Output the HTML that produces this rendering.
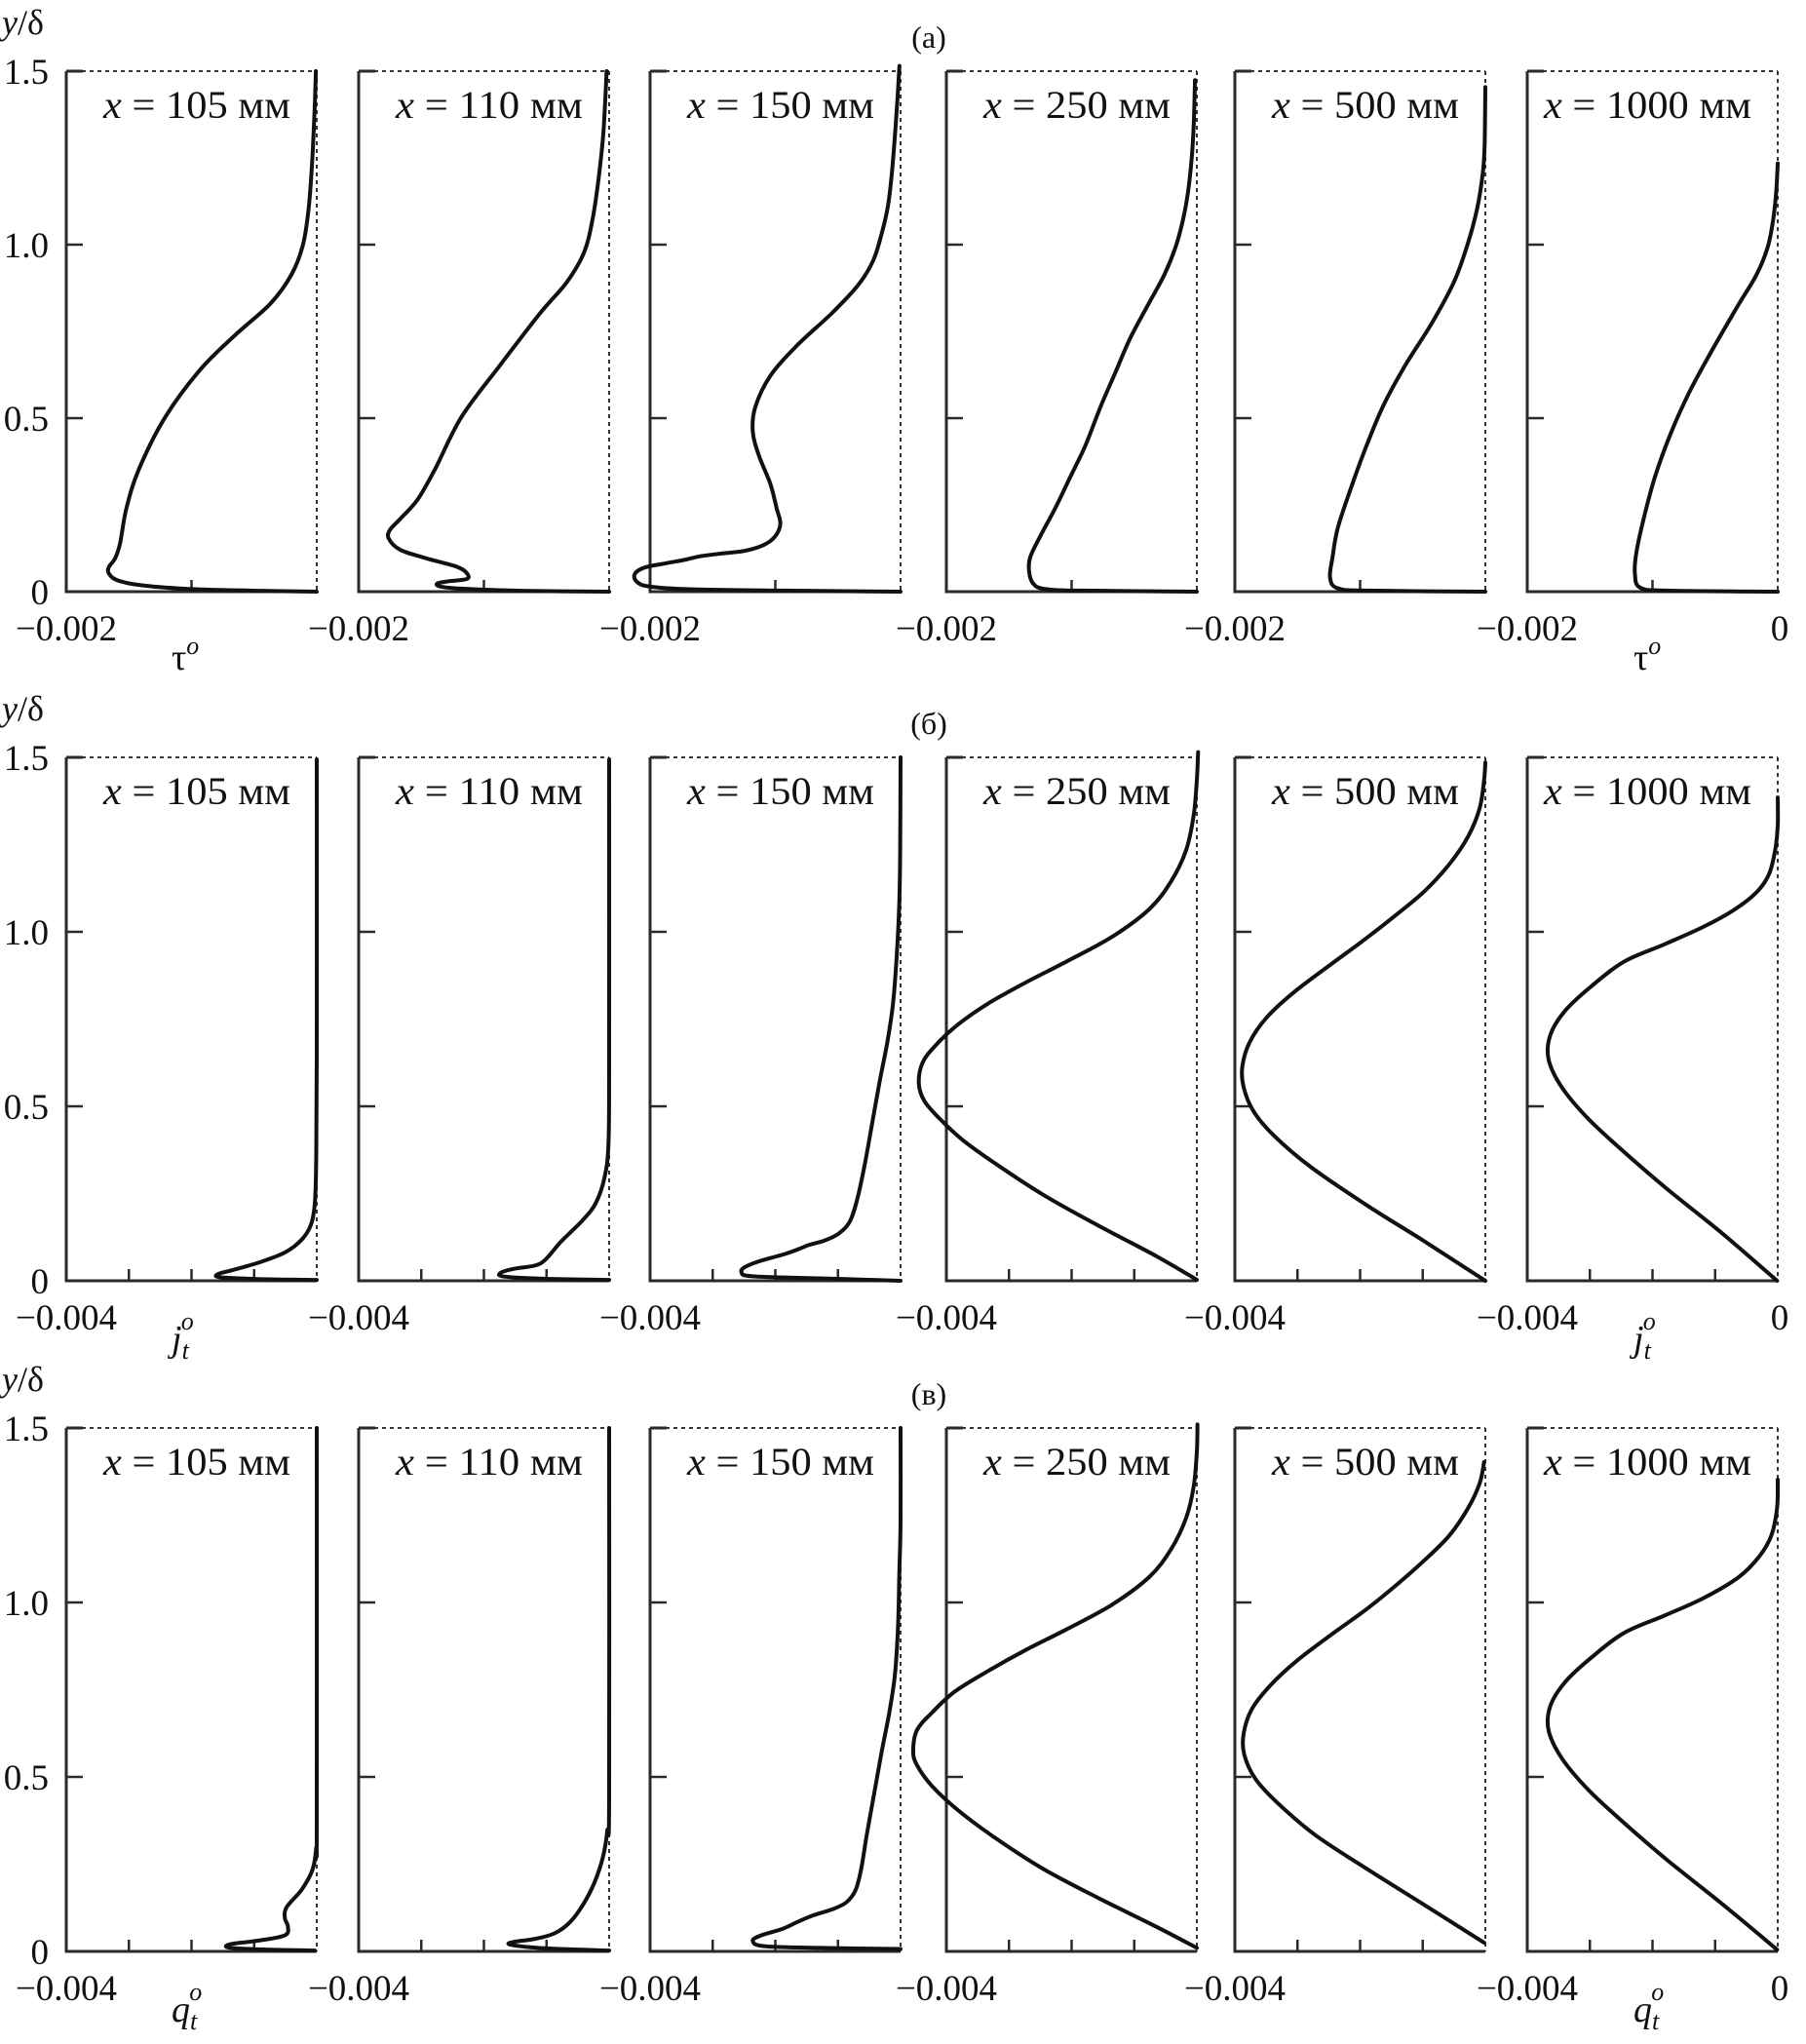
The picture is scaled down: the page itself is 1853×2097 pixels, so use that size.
<!DOCTYPE html>
<html>
<head>
<meta charset="utf-8">
<style>
html,body{margin:0;padding:0;background:#fff;}
svg{display:block;font-family:"Liberation Serif","DejaVu Serif",serif;}
</style>
</head>
<body>
<svg id="fig" width="1853" height="2097" viewBox="0 0 1853 2097" xmlns="http://www.w3.org/2000/svg"></svg>
<script>
// ---------- data ----------
const panelTitles = ["x = 105 мм","x = 110 мм","x = 150 мм","x = 250 мм","x = 500 мм","x = 1000 мм"];
const rowLetters = ["(а)","(б)","(в)"];
const rowMins = [-0.002, -0.004, -0.004];
const rowMinLabels = ["−0.002","−0.004","−0.004"];
const yTickValues = [0, 0.5, 1.0, 1.5];
const yTickLabels = ["0","0.5","1.0","1.5"];

// Row (а): tau
const tau105_y = [0,0.0025,0.0075,0.0175,0.0325,0.0525,0.071,0.096,0.14,0.24,0.353,0.503,0.64,0.74,0.83,0.915,1.0,1.10,1.23,1.39,1.5];
const tau105_v = [0,-0.00044,-0.001,-0.00138,-0.00159,-0.00166,-0.00166,-0.00161,-0.00157,-0.00152,-0.00142,-0.00121,-0.00093,-0.00065,-0.00037,-0.0002,-0.00011,-0.000066,-0.000038,-0.000017,-0.000007];
const tau110_y = [0,0.0025,0.0088,0.015,0.024,0.030,0.036,0.050,0.071,0.096,0.121,0.153,0.178,0.209,0.265,0.353,0.503,0.653,0.803,0.891,0.978,1.078,1.203,1.328,1.5];
const tau110_v = [0,-0.000691,-0.00118,-0.00135,-0.00137,-0.00128,-0.00114,-0.00113,-0.00121,-0.00146,-0.00167,-0.00176,-0.00175,-0.00167,-0.00153,-0.00139,-0.00118,-0.00087,-0.00055,-0.00034,-0.0002,-0.00013,-0.00008,-0.000045,-0.00002];
const tau150_y = [0,0.003,0.007,0.015,0.030,0.052,0.070,0.082,0.092,0.102,0.109,0.118,0.135,0.160,0.196,0.241,0.311,0.391,0.461,0.532,0.622,0.712,0.802,0.883,0.953,1.033,1.113,1.204,1.314,1.424,1.515];
const tau150_v = [0,-0.00094,-0.00169,-0.00201,-0.00211,-0.00212,-0.00204,-0.00187,-0.00172,-0.0016,-0.00145,-0.00124,-0.00109,-0.001,-0.00096,-0.00099,-0.00104,-0.00113,-0.00118,-0.00116,-0.00104,-0.00082,-0.00055,-0.00034,-0.00022,-0.00015,-0.0001,-0.00007,-0.000045,-0.000024,-0.000009];
const tau250_y = [0,0.003,0.008,0.025,0.060,0.100,0.160,0.241,0.331,0.421,0.532,0.632,0.732,0.833,0.913,0.993,1.073,1.153,1.254,1.354,1.474];
const tau250_v = [0,-0.00092,-0.00122,-0.00131,-0.00134,-0.00133,-0.00125,-0.00113,-0.00101,-0.00089,-0.00077,-0.00065,-0.00053,-0.00038,-0.00026,-0.00017,-0.00011,-0.00007,-0.00004,-0.000024,-0.000015];
const tau500_y = [0,0.003,0.010,0.040,0.100,0.181,0.281,0.401,0.532,0.652,0.772,0.893,1.003,1.103,1.204,1.284,1.454];
const tau500_v = [0,-0.00094,-0.00118,-0.00124,-0.00122,-0.00118,-0.00109,-0.00097,-0.00082,-0.00064,-0.00043,-0.00025,-0.00014,-0.000066,-0.000021,-0.000006,0];
const tau1000_y = [0,0.003,0.012,0.050,0.110,0.211,0.331,0.451,0.572,0.692,0.823,0.913,0.993,1.073,1.153,1.234];
const tau1000_v = [0,-0.00089,-0.0011,-0.00114,-0.00113,-0.00107,-0.00098,-0.00086,-0.00071,-0.00053,-0.00032,-0.00017,-0.00008,-0.000036,-0.000012,0];

// Row (б): j_t
const jt105_y = [0.0025,0.005,0.010,0.019,0.031,0.052,0.081,0.118,0.162,0.224,0.336,0.647,1.494];
const jt105_v = [0,-0.00093,-0.00154,-0.00158,-0.00134,-0.00093,-0.00051,-0.00024,-0.00009,-0.00003,-0.00001,0,0];
const jt110_y = [0.0025,0.006,0.012,0.022,0.034,0.044,0.062,0.112,0.174,0.224,0.299,0.398,0.647,1.494];
const jt110_v = [0,-0.00104,-0.00167,-0.00174,-0.00153,-0.00118,-0.00101,-0.00077,-0.00042,-0.00021,-0.00007,-0.00001,0,0];
const jt150_y = [0,0.007,0.013,0.025,0.040,0.057,0.075,0.090,0.103,0.115,0.135,0.170,0.235,0.335,0.455,0.575,0.685,0.795,0.935,1.085,1.235,1.5];
const jt150_v = [0,-0.00128,-0.00237,-0.00254,-0.00248,-0.00224,-0.00188,-0.00164,-0.00146,-0.00122,-0.00099,-0.00081,-0.00069,-0.00057,-0.00045,-0.00033,-0.00021,-0.00012,-0.00006,-0.00002,-0.000006,0];
const jt250_y = [0.003,0.070,0.155,0.245,0.335,0.405,0.465,0.515,0.565,0.625,0.675,0.735,0.795,0.855,0.915,0.985,1.065,1.145,1.235,1.335,1.435,1.515];
const jt250_v = [0,-0.00064,-0.00154,-0.00244,-0.00321,-0.00375,-0.00411,-0.00435,-0.00444,-0.00438,-0.00417,-0.00381,-0.00333,-0.00273,-0.00208,-0.00136,-0.00076,-0.00041,-0.00017,-0.00005,0,0.00002];
const jt500_y = [0,0.115,0.215,0.325,0.415,0.485,0.555,0.615,0.685,0.755,0.825,0.905,0.975,1.045,1.115,1.195,1.275,1.355,1.435,1.485];
const jt500_v = [0,-0.00099,-0.00188,-0.00278,-0.00337,-0.0037,-0.00386,-0.00388,-0.00376,-0.00349,-0.00307,-0.00248,-0.00195,-0.00145,-0.00098,-0.00057,-0.00027,-0.00009,-0.00002,0];
const jt1000_y = [0,0.135,0.265,0.375,0.465,0.555,0.635,0.705,0.775,0.845,0.915,0.965,1.015,1.065,1.115,1.165,1.235,1.305,1.385];
const jt1000_v = [-0.00001,-0.00088,-0.00178,-0.00249,-0.00303,-0.00345,-0.00366,-0.00363,-0.00339,-0.00297,-0.00245,-0.0018,-0.00118,-0.00068,-0.00033,-0.00014,-0.00004,0,0];

// Row (в): q_t
const qt105_y = [0.0025,0.006,0.011,0.021,0.031,0.046,0.071,0.096,0.127,0.177,0.233,0.295,0.382,1.5];
const qt105_v = [-0.00003,-0.00093,-0.00141,-0.00137,-0.00093,-0.00051,-0.00046,-0.00051,-0.00048,-0.00024,-0.00007,-0.00001,0,0];
const qt110_y = [0.0025,0.009,0.019,0.027,0.036,0.052,0.083,0.133,0.195,0.270,0.345,0.444,1.5];
const qt110_v = [0,-0.00104,-0.00157,-0.00153,-0.00118,-0.00087,-0.00063,-0.00042,-0.00024,-0.0001,-0.00003,0,0];
const qt150_y = [0.007,0.010,0.015,0.030,0.045,0.065,0.085,0.103,0.120,0.140,0.175,0.235,0.334,0.454,0.574,0.684,0.793,0.933,1.083,1.233,1.5];
const qt150_v = [0,-0.00128,-0.00218,-0.00236,-0.00224,-0.00188,-0.00164,-0.0014,-0.0011,-0.00087,-0.00072,-0.00063,-0.00054,-0.00042,-0.0003,-0.00018,-0.00009,-0.00004,-0.00002,0,0];
const qt250_y = [0.010,0.070,0.150,0.235,0.324,0.404,0.474,0.534,0.574,0.634,0.684,0.744,0.804,0.864,0.923,0.993,1.073,1.153,1.243,1.333,1.432,1.51];
const qt250_v = [0,-0.00064,-0.00154,-0.00244,-0.00321,-0.00381,-0.00423,-0.00447,-0.00453,-0.00447,-0.00423,-0.00387,-0.00333,-0.00273,-0.00208,-0.00136,-0.00076,-0.00041,-0.00017,-0.00005,0,0.00001];
const qt500_y = [0.025,0.135,0.235,0.334,0.424,0.494,0.564,0.624,0.694,0.763,0.833,0.913,0.983,1.053,1.123,1.193,1.272,1.342,1.402];
const qt500_v = [-0.00002,-0.00099,-0.00188,-0.00272,-0.00331,-0.00367,-0.00385,-0.00386,-0.00373,-0.00343,-0.00301,-0.00242,-0.00188,-0.0014,-0.00096,-0.00057,-0.00027,-0.00009,-0.00002];
const qt1000_y = [0.005,0.135,0.264,0.374,0.464,0.554,0.634,0.704,0.773,0.843,0.913,0.963,1.013,1.073,1.133,1.193,1.272,1.352];
const qt1000_v = [-0.00001,-0.00088,-0.00178,-0.00249,-0.00303,-0.00345,-0.00366,-0.00363,-0.00339,-0.00297,-0.00245,-0.0018,-0.00118,-0.00062,-0.00029,-0.0001,-0.00001,0];

const rowSeries = [
  [[tau105_y,tau105_v],[tau110_y,tau110_v],[tau150_y,tau150_v],[tau250_y,tau250_v],[tau500_y,tau500_v],[tau1000_y,tau1000_v]],
  [[jt105_y,jt105_v],[jt110_y,jt110_v],[jt150_y,jt150_v],[jt250_y,jt250_v],[jt500_y,jt500_v],[jt1000_y,jt1000_v]],
  [[qt105_y,qt105_v],[qt110_y,qt110_v],[qt150_y,qt150_v],[qt250_y,qt250_v],[qt500_y,qt500_v],[qt1000_y,qt1000_v]]
];

// ---------- layout ----------
const NS = "http://www.w3.org/2000/svg";
const svg = document.getElementById("fig");
const panelLefts = [68,368,667,971,1267,1567];
const PW = 257;
const rowTops = [73,777,1465];
const rowBottoms = [607,1314,2002];
const rowXTickCount = [2,4,4];

function mk(tag, attrs, parent){
  const e = document.createElementNS(NS, tag);
  for (const k in attrs) e.setAttribute(k, attrs[k]);
  (parent||svg).appendChild(e);
  return e;
}
function catmull(pts){
  let d = "M"+pts[0][0].toFixed(2)+","+pts[0][1].toFixed(2);
  for (let i=0;i<pts.length-1;i++){
    const p0 = pts[Math.max(i-1,0)], p1 = pts[i], p2 = pts[i+1], p3 = pts[Math.min(i+2,pts.length-1)];
    const c1x = p1[0]+(p2[0]-p0[0])/6, c1y = p1[1]+(p2[1]-p0[1])/6;
    const c2x = p2[0]-(p3[0]-p1[0])/6, c2y = p2[1]-(p3[1]-p1[1])/6;
    d += " C"+c1x.toFixed(2)+","+c1y.toFixed(2)+" "+c2x.toFixed(2)+","+c2y.toFixed(2)+" "+p2[0].toFixed(2)+","+p2[1].toFixed(2);
  }
  return d;
}

for (let r=0;r<3;r++){
  const top = rowTops[r], bot = rowBottoms[r], H = bot-top;
  const xmin = rowMins[r];
  const yScale = v => bot - v/1.5*H;

  const rowG = mk("g",{});
  
  

  const lt = mk("text",{x:953,y:top-24,"font-size":32,"text-anchor":"middle",fill:"#111"},rowG);
  lt.textContent = rowLetters[r];
  
  

  const yt = mk("text",{x:2,y:top-38,"font-size":36,fill:"#111"},rowG);
  
  
  const ty1 = mk("tspan",{"font-style":"italic"},yt); ty1.textContent = "y";
  const ty2 = mk("tspan",{},yt); ty2.textContent = "/δ";

  for (let k=0;k<yTickValues.length;k++){
    const t = mk("text",{x:50,y:yScale(yTickValues[k])+13,"font-size":37,"text-anchor":"end",fill:"#111"},rowG);
    t.textContent = yTickLabels[k];
    
    
  }

  for (let p=0;p<6;p++){
    const L = panelLefts[p], R = L+PW;
    const xScale = v => L + (v - xmin)/(0 - xmin)*PW;
    const g = mk("g",{},rowG);
    
    

    const dt = mk("line",{x1:L,y1:top,x2:R,y2:top,stroke:"#333","stroke-width":2,"stroke-dasharray":"4,4"},g);
    
    
    const dr = mk("line",{x1:xScale(0),y1:top,x2:xScale(0),y2:bot,stroke:"#333","stroke-width":2,"stroke-dasharray":"4,4"},g);
    
    
    const ax = mk("path",{d:"M"+L+","+top+" L"+L+","+bot+" L"+R+","+bot,stroke:"#2a2a2a","stroke-width":3,fill:"none"},g);
    
    
    const tk = mk("line",{x1:L,y1:top,x2:L+17,y2:top,stroke:"#2a2a2a","stroke-width":3},g);
    
    
    for (const yv of [0.5,1.0]){
      const t = mk("line",{x1:L,y1:yScale(yv),x2:L+17,y2:yScale(yv),stroke:"#2a2a2a","stroke-width":2.5},g);
      
      
    }
    const n = rowXTickCount[r];
    for (let k=1;k<n;k++){
      const xv = xmin + (0-xmin)*k/n;
      const t = mk("line",{x1:xScale(xv),y1:bot,x2:xScale(xv),y2:bot-12,stroke:"#2a2a2a","stroke-width":2.5},g);
      
      
    }
    const xl = mk("text",{x:xScale(xmin),y:bot+50,"font-size":37,"text-anchor":"middle",fill:"#111"},g);
    xl.textContent = rowMinLabels[r];
    
    
    if (p===5){
      const z = mk("text",{x:xScale(0)+2,y:bot+50,"font-size":37,"text-anchor":"middle",fill:"#111"},g);
      z.textContent = "0";
      
      
    }
    const tw = p===5 ? 213 : 192;
    const pt = mk("text",{x:R-27-tw,y:top+48,"font-size":40,fill:"#111",textLength:tw,lengthAdjust:"spacingAndGlyphs"},g);
    
    
    const parts = panelTitles[p].split(" ");
    const s1 = mk("tspan",{"font-style":"italic"},pt); s1.textContent = parts[0];
    const s2 = mk("tspan",{},pt); s2.textContent = " "+parts.slice(1).join(" ");

    const ys = rowSeries[r][p][0], vs = rowSeries[r][p][1];
    const pts = [];
    for (let i=0;i<ys.length;i++) pts.push([xScale(vs[i]), yScale(ys[i])]);
    const c = mk("path",{d:catmull(pts),stroke:"#111","stroke-width":4,fill:"none","stroke-linejoin":"round","stroke-linecap":"round"},g);
    
    
  }

  for (const cx of [176, 1676]){
    const t = mk("text",{x:cx,y:bot+(r===0?80:72),"font-size":38,fill:"#111"},rowG);
    
    
    if (r===0){
      const a = mk("tspan",{},t); a.textContent = "τ";
      const b = mk("tspan",{"font-style":"italic","font-size":26,dy:-16},t); b.textContent = "o";
    } else {
      const a = mk("tspan",{"font-style":"italic"},t); a.textContent = r===1 ? "j" : "q";
      const b = mk("tspan",{"font-style":"italic","font-size":26,dy:8},t); b.textContent = "t";
      const c2 = mk("tspan",{"font-style":"italic","font-size":26,dx:-8,dy:-30},t); c2.textContent = "o";
    }
  }
}
</script>
</body>
</html>
